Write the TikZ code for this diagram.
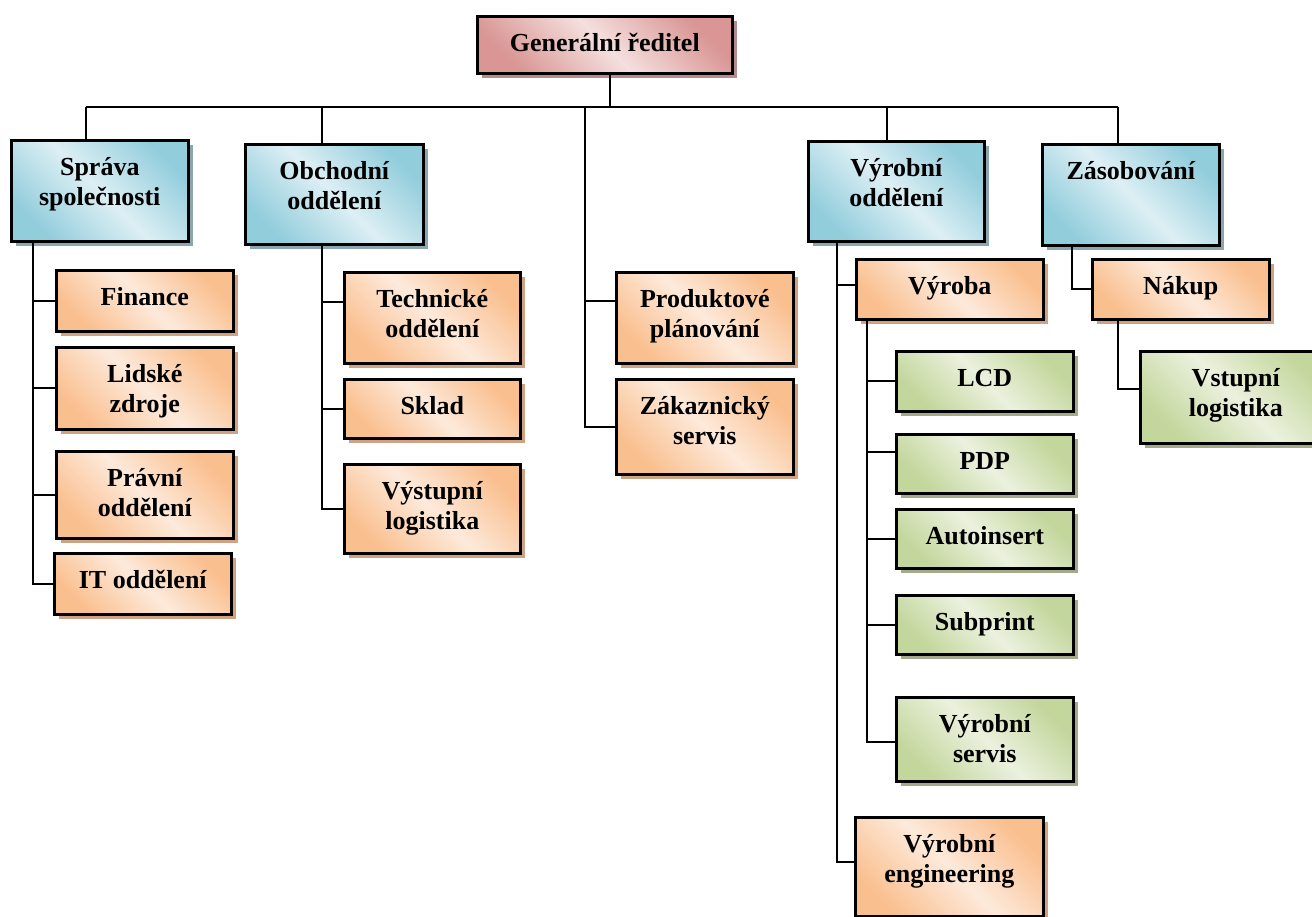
\documentclass[tikz,border=0pt]{standalone}
\usepackage{fontspec}
\setmainfont{Liberation Serif}
\usetikzlibrary{calc}
\definecolor{bdark}{HTML}{92CDDC}
\definecolor{blight}{HTML}{DDEFF4}
\definecolor{bshad}{HTML}{8CA6B0}
\definecolor{odark}{HTML}{FABF8F}
\definecolor{olight}{HTML}{FDEADB}
\definecolor{oshad}{HTML}{CFA283}
\definecolor{gdark}{HTML}{C3D69B}
\definecolor{glight}{HTML}{EBF1DE}
\definecolor{gshad}{HTML}{A2AA8A}
\definecolor{pdark}{HTML}{D99694}
\definecolor{plight}{HTML}{F4E0DF}
\definecolor{pshad}{HTML}{B48C8C}
\tikzset{
  conn/.style={draw=black, line width=2pt},
  boxbase/.style={rectangle, draw=black, line width=2.6pt, inner sep=0pt, anchor=north west},
  bluebox/.style={boxbase, top color=bdark, bottom color=bdark, middle color=blight, shading angle=-45},
  orangebox/.style={boxbase, top color=odark, bottom color=odark, middle color=olight, shading angle=-45},
  greenbox/.style={boxbase, top color=gdark, bottom color=gdark, middle color=glight, shading angle=-45},
  pinkbox/.style={boxbase, top color=pdark, bottom color=pdark, middle color=plight, shading angle=-45},
  txt/.style={font=\fontsize{26}{30}\selectfont\bfseries, inner sep=0pt, anchor=base},
}
% #1 name, #2 x1, #3 y1, #4 x2, #5 y2, #6 style, #7 shadow colour, #8 text
\newcommand\obox[8]{%
  \fill[#7] (#2+6,#3+6) rectangle (#4+6,#5+6);
  \node[#6, minimum width={(#4-#2)*1pt}, minimum height={(#5-#3)*1pt}] (#1) at (#2,#3) {};
  \node[txt] (#1-t) at ($(#1.north)+(0,36)$) {\parbox[t]{260pt}{\centering #8}};
}
\begin{document}
\begin{tikzpicture}[x=1pt, y=-1pt]
\fill[white] (0,0) rectangle (1312,916);
\useasboundingbox (0,0) rectangle (1312,916);

\obox{gen}{476}{15}{731}{72}{pinkbox}{pshad}{Generální ředitel}

\obox{sprava}{10}{139}{187}{240}{bluebox}{bshad}{Správa\\společnosti}
\obox{obch}{244}{143}{422}{243}{bluebox}{bshad}{Obchodní\\oddělení}
\obox{vyrod}{807}{140}{983}{240}{bluebox}{bshad}{Výrobní\\oddělení}
\obox{zas}{1041}{143}{1218}{244}{bluebox}{bshad}{Zásobování}

\obox{fin}{55}{269}{232}{330}{orangebox}{oshad}{Finance}
\obox{lid}{55}{346}{232}{428}{orangebox}{oshad}{Lidské\\zdroje}
\obox{prav}{55}{450}{232}{537}{orangebox}{oshad}{Právní\\oddělení}
\obox{it}{53}{552}{230}{613}{orangebox}{oshad}{IT oddělení}

\obox{tech}{343}{271}{519}{362}{orangebox}{oshad}{Technické\\oddělení}
\obox{sklad}{343}{378}{519}{437}{orangebox}{oshad}{Sklad}
\obox{vyst}{343}{463}{519}{552}{orangebox}{oshad}{Výstupní\\logistika}

\obox{prod}{615}{271}{792}{362}{orangebox}{oshad}{Produktové\\plánování}
\obox{zak}{615}{378}{792}{473}{orangebox}{oshad}{Zákaznický\\servis}

\obox{vyroba}{855}{258}{1042}{318}{orangebox}{oshad}{Výroba}
\obox{lcd}{895}{350}{1072}{410}{greenbox}{gshad}{LCD}
\obox{pdp}{895}{433}{1072}{492}{greenbox}{gshad}{PDP}
\obox{auto}{895}{508}{1072}{567}{greenbox}{gshad}{Autoinsert}
\obox{sub}{895}{594}{1072}{653}{greenbox}{gshad}{Subprint}
\obox{serv}{895}{696}{1072}{780}{greenbox}{gshad}{Výrobní\\servis}
\obox{eng}{854}{816}{1042}{915}{orangebox}{oshad}{Výrobní\\engineering}

\obox{nakup}{1091}{258}{1268}{318}{orangebox}{oshad}{Nákup}
\obox{vst}{1139}{350}{1330}{442}{greenbox}{gshad}{Vstupní\\logistika}

% connectors
\coordinate (busL) at (86,107);
\coordinate (busR) at (1118,107);
\coordinate (mid) at (585,107);
\draw[conn] ([xshift=5.5]gen.south) -- ([xshift=5.5]gen.south |- busL);
\draw[conn] (busL) -- (busR);
\draw[conn] (busL) -- (busL |- sprava.north);
\draw[conn] ([xshift=-12]obch.north) -- ([xshift=-12]obch.north |- busL);
\draw[conn] ([xshift=-9]vyrod.north) -- ([xshift=-9]vyrod.north |- busL);
\draw[conn] (busR) -- (busR |- zas.north);
\draw[conn] (mid) |- ([yshift=16.5]prod.west);
\draw[conn] (mid) |- (zak.west);

\draw[conn] ([xshift=23]sprava.south west) |- (fin.west);
\draw[conn] ([xshift=23]sprava.south west) |- (lid.west);
\draw[conn] ([xshift=23]sprava.south west) |- (prav.west);
\draw[conn] ([xshift=23]sprava.south west) |- (it.west);

\draw[conn] ([xshift=-12]obch.south) |- ([yshift=16]tech.west);
\draw[conn] ([xshift=-12]obch.south) |- (sklad.west);
\draw[conn] ([xshift=-12]obch.south) |- (vyst.west);

\draw[conn] ([xshift=30]vyrod.south west) |- ([yshift=4]vyroba.west);
\draw[conn] ([xshift=30]vyrod.south west) |- ([yshift=5]eng.west);

\draw[conn] ([xshift=12]vyroba.south west) |- (lcd.west);
\draw[conn] ([xshift=12]vyroba.south west) |- ([yshift=12]pdp.west);
\draw[conn] ([xshift=12]vyroba.south west) |- (auto.west);
\draw[conn] ([xshift=12]vyroba.south west) |- (sub.west);
\draw[conn] ([xshift=12]vyroba.south west) |- ([yshift=-3]serv.west);

\draw[conn] ([xshift=31]zas.south west) |- (nakup.west);
\draw[conn] ([xshift=27]nakup.south west) |- ([yshift=8]vst.west);
\end{tikzpicture}
\end{document}
